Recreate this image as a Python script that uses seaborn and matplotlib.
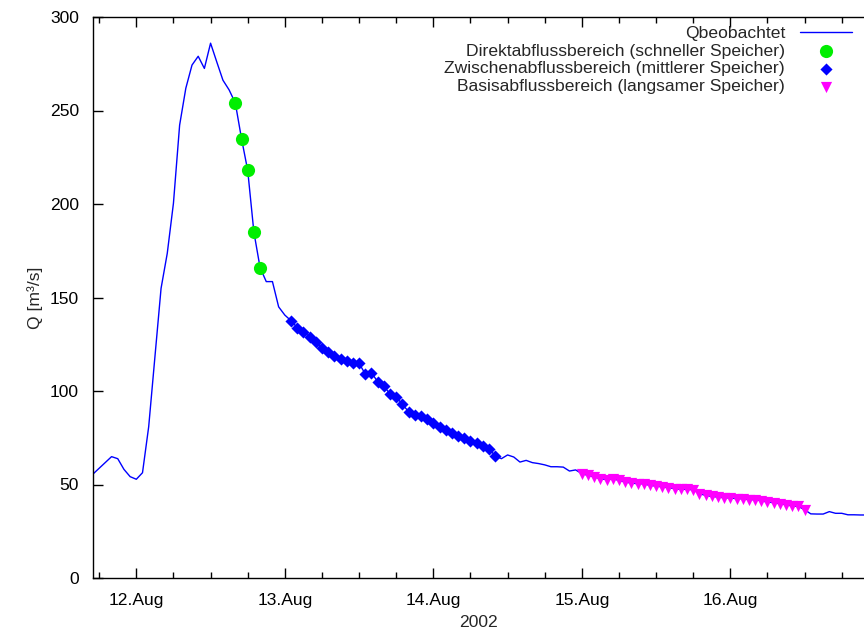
import seaborn as sns
import matplotlib
matplotlib.use("Agg")
import matplotlib.pyplot as plt
import matplotlib.dates as mdates
import pandas as pd

# hourly observed discharge, 11.Aug 17:00 .. 16.Aug 22:00 (2002)
start = "2002-08-11 17:00"
q_obs = [
    55.6, 58.7, 61.8, 64.9, 63.8, 58.1, 54.2,
    52.8, 56.3, 80.9, 118.0, 154.9, 173.6, 200.4, 242.2, 261.9, 274.3, 279.0, 272.5,
    286.0, 276.0, 266.2, 261.0, 254.0, 235.0, 218.0, 185.0, 166.0, 158.5, 158.5, 145.0, 140.6,
    137.6, 133.9, 131.7, 129.0, 126.4, 123.2, 121.0, 118.7, 117.1, 116.0,
    114.8, 114.8, 109.1, 109.8, 105.0, 102.7, 98.4, 96.6, 93.0, 88.9,
    87.2, 86.8, 85.0, 82.7, 80.9, 79.1, 77.7, 76.1, 74.7, 73.3,
    72.4, 70.7, 69.0, 65.4,
    63.8, 65.8, 64.7, 62.0, 62.9, 61.7, 61.2, 60.5, 59.5, 59.5, 59.3, 57.2, 57.8,
    55.8, 54.9, 54.0, 53.1, 52.6, 53.1, 52.2, 51.3, 50.8, 50.4,
    50.4, 49.5, 49.2, 48.7, 48.3, 47.8, 47.4, 47.4, 47.2, 45.1,
    44.2, 43.6, 43.3, 42.9, 42.8, 42.4, 42.4, 41.9, 41.9, 41.3,
    40.6, 40.3, 39.7, 39.2, 38.5, 38.3, 36.5,
    34.3, 34.2, 34.2, 35.5, 34.6, 34.6, 33.8, 33.8, 33.7, 33.7,
]

# time windows of the three storage ranges
direkt_range = ("2002-08-12 16:00", "2002-08-12 20:00")
zwischen_range = ("2002-08-13 01:00", "2002-08-14 10:00")
basis_range = ("2002-08-15 00:00", "2002-08-16 12:00")

labels = [
    "Qbeobachtet",
    "Direktabflussbereich (schneller Speicher)",
    "Zwischenabflussbereich (mittlerer Speicher)",
    "Basisabflussbereich (langsamer Speicher)",
]

df = pd.DataFrame({
    "zeit": pd.date_range(start, periods=len(q_obs), freq="h"),
    "Q": q_obs,
})


def segment(rng):
    return df[(df.zeit >= rng[0]) & (df.zeit <= rng[1])]


sns.set_theme(style="white")
plt.rcParams["font.family"] = ["Liberation Sans", "DejaVu Sans"]
fs = 12.6

fig = plt.figure(figsize=(8.64, 6.3), dpi=100)
ax = fig.add_axes([93 / 864, 52 / 630, 771 / 864, 561 / 630])

sns.lineplot(data=df, x="zeit", y="Q", color="#0000ff", lw=1.0,
             label=labels[0], ax=ax)
sns.scatterplot(data=segment(direkt_range), x="zeit", y="Q", color="#00ee00",
                marker="o", s=90, linewidth=0, label=labels[1], ax=ax, zorder=3)
sns.scatterplot(data=segment(zwischen_range), x="zeit", y="Q", color="#0000ff",
                marker="D", s=38, linewidth=0, label=labels[2], ax=ax, zorder=3)
sns.scatterplot(data=segment(basis_range), x="zeit", y="Q", color="#ff00ff",
                marker="v", s=65, linewidth=0, label=labels[3], ax=ax, zorder=3)

ax.set_ylim(0, 300)
ax.set_yticks(range(0, 301, 50))
ax.set_xlim(pd.Timestamp("2002-08-11 17:00"), pd.Timestamp("2002-08-16 21:36"))
ax.xaxis.set_major_locator(mdates.DayLocator())
ax.xaxis.set_major_formatter(mdates.DateFormatter("%d.%b"))
ax.xaxis.set_minor_locator(mdates.HourLocator(byhour=[6, 12, 18]))

ax.set_xlabel("2002", fontsize=fs, labelpad=5)
ax.set_ylabel("Q [m³/s]", fontsize=fs, labelpad=5)

for side in ["left", "bottom", "top"]:
    ax.spines[side].set_color("black")
    ax.spines[side].set_linewidth(1.0)
ax.spines["right"].set_visible(False)

ax.tick_params(axis="both", which="both", direction="in", color="black",
               width=1.0, labelsize=fs, labelcolor="black")
ax.tick_params(axis="x", which="both", top=True, bottom=True, pad=11)
ax.tick_params(axis="x", which="major", length=7)
ax.tick_params(axis="x", which="minor", length=4)
ax.tick_params(axis="y", which="major", left=True, length=7, pad=10)

leg = ax.legend(loc="upper right", bbox_to_anchor=(0.985, 0.985), frameon=False,
                markerfirst=False, handlelength=3.0, handletextpad=0.85,
                labelspacing=0.15, borderpad=0, borderaxespad=0,
                fontsize=fs, scatterpoints=1)
for t in leg.get_texts():
    t.set_ha("right")

fig.savefig("out.png", dpi=100)
